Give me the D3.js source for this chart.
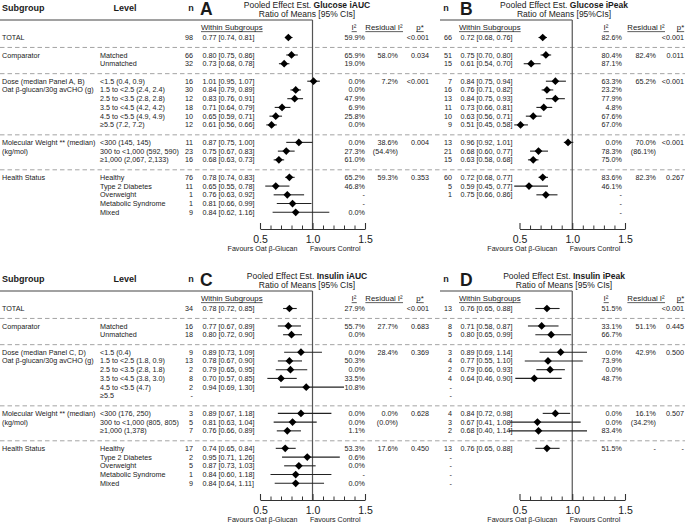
<!DOCTYPE html>
<html>
<head>
<meta charset="utf-8">
<script src="https://cdn.jsdelivr.net/npm/d3@7"></script>
<style>
  body { margin: 0; background: #fff; }
  svg { display: block; font-family: "Liberation Sans", Arial, sans-serif; }
</style>
</head>
<body>
<svg id="chart"></svg>
<script>
// ---- data ----
const groupSizes = [1, 2, 6, 3, 5];
const groupLabelsAB = [["TOTAL"], ["Comparator"], ["Dose (median Panel A, B)", "Oat β-glucan/30g avCHO (g)"], ["Molecular Weight ** (median)", "(kg/mol)"], ["Health Status"]];
const groupLabelsCD = [["TOTAL"], ["Comparator"], ["Dose (median Panel C, D)", "Oat β-glucan/30g avCHO (g)"], ["Molecular Weight ** (median)", "(kg/mol)"], ["Health Status"]];
const levelsAB = ["", "Matched", "Unmatched", "<1.5 (0.4, 0.9)", "1.5 to <2.5 (2.4, 2.4)", "2.5 to <3.5 (2.8, 2.8)", "3.5 to <4.5 (4.2, 4.2)", "4.5 to <5.5 (4.9, 4.9)", "≥5.5 (7.2, 7.2)", "<300 (145, 145)", "300 to <1,000 (592, 590)", "≥1,000 (2,067, 2,133)", "Healthy", "Type 2 Diabetes", "Overweight", "Metabolic Syndrome", "Mixed"];
const levelsCD = ["", "Matched", "Unmatched", "<1.5 (0.4)", "1.5 to <2.5 (1.8, 0.9)", "2.5 to <3.5 (2.8, 1.8)", "3.5 to <4.5 (3.8, 3.0)", "4.5 to <5.5 (4.7)", "≥5.5", "<300 (176, 250)", "300 to <1,000 (805, 805)", "≥1,000 (1,378)", "Healthy", "Type 2 Diabetes", "Overweight", "Metabolic Syndrome", "Mixed"];

// A: Glucose iAUC
const nA = ["98", "66", "32", "16", "30", "12", "18", "10", "12", "11", "23", "16", "76", "11", "1", "1", "9"];
const estA = [0.77, 0.80, 0.73, 1.01, 0.84, 0.83, 0.71, 0.65, 0.61, 0.87, 0.75, 0.68, 0.78, 0.65, 0.76, 0.81, 0.84];
const loA = [0.74, 0.75, 0.68, 0.95, 0.79, 0.76, 0.64, 0.59, 0.56, 0.75, 0.67, 0.63, 0.74, 0.55, 0.63, 0.66, 0.62];
const hiA = [0.81, 0.86, 0.78, 1.07, 0.89, 0.91, 0.79, 0.71, 0.66, 1.00, 0.83, 0.73, 0.83, 0.78, 0.92, 0.99, 1.16];
const i2A = ["59.9%", "65.9%", "19.0%", "0.0%", "0.0%", "47.9%", "6.9%", "25.8%", "0.0%", "0.0%", "27.3%", "61.0%", "65.2%", "46.8%", "-", "-", "0.0%"];
const residA = ["", "58.0%", "", "7.2%", "", "", "", "", "", "38.6%", "(54.4%)", "", "59.3%", "", "", "", ""];
const pA = ["<0.001", "0.034", "", "<0.001", "", "", "", "", "", "0.004", "", "", "0.353", "", "", "", ""];

// B: Glucose iPeak
const nB = ["66", "51", "15", "7", "16", "13", "11", "10", "9", "13", "21", "15", "60", "5", "1", "", ""];
const estB = [0.72, 0.75, 0.61, 0.84, 0.76, 0.84, 0.73, 0.63, 0.51, 0.96, 0.68, 0.63, 0.72, 0.59, 0.75, null, null];
const loB = [0.68, 0.70, 0.54, 0.75, 0.71, 0.75, 0.66, 0.56, 0.45, 0.92, 0.60, 0.58, 0.68, 0.45, 0.66, null, null];
const hiB = [0.76, 0.80, 0.70, 0.94, 0.82, 0.93, 0.81, 0.71, 0.58, 1.01, 0.77, 0.68, 0.77, 0.77, 0.86, null, null];
const i2B = ["82.6%", "80.4%", "87.1%", "63.3%", "23.2%", "77.9%", "4.8%", "67.6%", "67.0%", "0.0%", "78.3%", "75.0%", "83.6%", "46.1%", "-", "-", "-"];
const residB = ["", "82.4%", "", "65.2%", "", "", "", "", "", "70.0%", "(86.1%)", "", "82.3%", "", "", "", ""];
const pB = ["<0.001", "0.011", "", "<0.001", "", "", "", "", "", "<0.001", "", "", "0.267", "", "", "", ""];

// C: Insulin iAUC
const nC = ["34", "16", "18", "9", "13", "2", "8", "2", "-", "3", "5", "7", "17", "2", "5", "1", "9"];
const estC = [0.78, 0.77, 0.80, 0.89, 0.78, 0.79, 0.70, 0.94, null, 0.89, 0.81, 0.76, 0.74, 0.95, 0.87, 0.84, 0.84];
const loC = [0.72, 0.67, 0.72, 0.73, 0.67, 0.65, 0.57, 0.69, null, 0.67, 0.63, 0.66, 0.65, 0.71, 0.73, 0.60, 0.64];
const hiC = [0.85, 0.89, 0.90, 1.09, 0.90, 0.95, 0.85, 1.30, null, 1.18, 1.04, 0.89, 0.84, 1.26, 1.03, 1.18, 1.11];
const i2C = ["27.9%", "55.7%", "0.0%", "0.0%", "50.3%", "0.0%", "33.5%", "10.8%", "", "0.0%", "0.0%", "1.1%", "53.3%", "0.6%", "0.0%", "-", "0.0%"];
const residC = ["", "27.7%", "", "28.4%", "", "", "", "", "", "0.0%", "(0.0%)", "", "17.6%", "", "", "", ""];
const pC = ["<0.001", "0.683", "", "0.369", "", "", "", "", "", "0.628", "", "", "0.450", "", "", "", ""];

// D: Insulin iPeak
const nD = ["13", "8", "5", "3", "4", "2", "4", "-", "-", "4", "3", "2", "13", "-", "-", "-", "-"];
const estD = [0.76, 0.71, 0.80, 0.89, 0.77, 0.79, 0.64, null, null, 0.84, 0.67, 0.68, 0.76, null, null, null, null];
const loD = [0.65, 0.58, 0.65, 0.69, 0.55, 0.66, 0.46, null, null, 0.72, 0.41, 0.40, 0.65, null, null, null, null];
const hiD = [0.88, 0.87, 0.99, 1.14, 1.10, 0.93, 0.90, null, null, 0.98, 1.08, 1.14, 0.88, null, null, null, null];
const i2D = ["51.5%", "33.1%", "66.7%", "0.0%", "73.9%", "0.0%", "48.7%", "", "", "0.0%", "0.0%", "83.4%", "51.5%", "", "", "", ""];
const residD = ["", "51.1%", "", "42.9%", "", "", "", "", "", "16.1%", "(34.2%)", "", "-", "", "", "", ""];
const pD = ["<0.001", "0.445", "", "0.500", "", "", "", "", "", "0.507", "", "", "-", "", "", "", ""];

const axisTicks = [0.5, 1.0, 1.5];
const minorTicks = [0.6, 0.7, 0.8, 0.9, 1.1, 1.2, 1.3, 1.4];

// ---- layout ----
const width = 685, height = 525;
const halfOffset = [0, 271];
const textColor = "#1a1a1a";
const fmt = d3.format(".2f");

const sides = [
  { nX: 193, nHead: 191, estX: 202.5, letterX: 200, titleX: 307, range: [260, 365],
    i2X: 365, residX: 398, pX: 429, hI2: 354, hResid: 384, hP: 420, ruleFrom: 0 },
  { nX: 452, nHead: 446, estX: 460.5, letterX: 460, titleX: 564, range: [519.5, 625],
    i2X: 622, residX: 656, pX: 684, hI2: 606, hResid: 646, hP: 680.5, ruleFrom: 440 }
];

const panels = [
  { half: 0, side: 0, letter: "A", outcome: "Glucose iAUC", ci: "Ratio of Means [95% CIs]",
    n: nA, est: estA, lo: loA, hi: hiA, i2: i2A, resid: residA, p: pA },
  { half: 0, side: 1, letter: "B", outcome: "Glucose iPeak", ci: "Ratio of Means [95%CIs]",
    n: nB, est: estB, lo: loB, hi: hiB, i2: i2B, resid: residB, p: pB },
  { half: 1, side: 0, letter: "C", outcome: "Insulin iAUC", ci: "Ratio of Means [95% CIs]",
    n: nC, est: estC, lo: loC, hi: hiC, i2: i2C, resid: residC, p: pC },
  { half: 1, side: 1, letter: "D", outcome: "Insulin iPeak", ci: "Ratio of Means [95% CIs]",
    n: nD, est: estD, lo: loD, hi: hiD, i2: i2D, resid: residD, p: pD }
];

// row index with one blank separator row between groups
function rowIndex(k) {
  let acc = 0;
  for (let g = 0; g < groupSizes.length; g++) {
    if (k < acc + groupSizes[g]) return k + g;
    acc += groupSizes[g];
  }
}
const separators = [];
{
  let acc = 0;
  groupSizes.slice(0, -1).forEach((s, g) => { acc += s; separators.push(acc + g); });
}

const yRow = d3.scaleLinear().domain([0, 20]).range([37.5, 212.3]);
const ruleY = 20, axisY = 229;

const svg = d3.select("#chart").attr("width", width).attr("height", height)
  .attr("viewBox", [0, 0, width, height]);

function label(g, x, y, text, opts = {}) {
  return g.append("text")
    .attr("x", x).attr("y", y).attr("dy", "0.35em")
    .attr("text-anchor", opts.anchor || "start")
    .attr("font-size", opts.size || 7.2)
    .attr("font-weight", opts.bold ? "bold" : null)
    .attr("fill", textColor)
    .text(text);
}
function underline(g, t) {
  const b = t.node().getBBox();
  g.append("line")
    .attr("x1", b.x).attr("x2", b.x + b.width)
    .attr("y1", b.y + b.height - 0.6).attr("y2", b.y + b.height - 0.6)
    .attr("stroke", textColor).attr("stroke-width", 0.7);
}

// ---- shared columns per half ----
[0, 1].forEach(half => {
  const g = svg.append("g").attr("transform", `translate(0,${halfOffset[half]})`);
  const groups = half === 0 ? groupLabelsAB : groupLabelsCD;
  const levels = half === 0 ? levelsAB : levelsCD;

  label(g, 2, 8, "Subgroup", { size: 9, bold: true });
  label(g, 125, 8, "Level", { size: 9, bold: true, anchor: "middle" });

  // separators
  g.selectAll("line.sep").data(separators).join("line")
    .attr("class", "sep")
    .attr("x1", 0).attr("x2", width)
    .attr("y1", d => yRow(d) + 1.2).attr("y2", d => yRow(d) + 1.2)
    .attr("stroke", "#9a9a9a").attr("stroke-width", 0.9)
    .attr("stroke-dasharray", "4.5,3");

  // group labels
  let acc = 0;
  groups.forEach((lines, gi) => {
    lines.forEach((txt, li) => label(g, 2, yRow(rowIndex(acc) + li), txt));
    acc += groupSizes[gi];
  });

  // levels
  levels.forEach((txt, k) => { if (txt) label(g, 100, yRow(rowIndex(k)), txt); });
});

// ---- panels ----
panels.forEach(p => {
  const s = sides[p.side];
  const g = svg.append("g").attr("transform", `translate(0,${halfOffset[p.half]})`);
  const x = d3.scaleLinear().domain([0.5, 1.5]).range(s.range);

  // headers
  label(g, s.nHead, 8, "n", { size: 9, bold: true, anchor: "middle" });
  g.append("text")
    .attr("x", s.letterX).attr("y", 14.5)
    .attr("font-size", 17.5).attr("font-weight", "bold").attr("fill", textColor)
    .text(p.letter);
  const t1 = g.append("text")
    .attr("x", s.titleX).attr("y", 5.2).attr("dy", "0.35em")
    .attr("text-anchor", "middle").attr("font-size", 8.5).attr("fill", textColor);
  t1.append("tspan").text("Pooled Effect Est. ");
  t1.append("tspan").attr("font-weight", "bold").text(p.outcome);
  label(g, s.titleX, 14.5, p.ci, { size: 8.5, anchor: "middle" });

  // rule under header
  g.append("line")
    .attr("x1", s.ruleFrom).attr("x2", x(1))
    .attr("y1", ruleY).attr("y2", ruleY)
    .attr("stroke", "#444").attr("stroke-width", 1.1);

  underline(g, label(g, s.estX - 1.5, 27.5, "Within Subgroups", { size: 7.8 }));
  underline(g, label(g, s.hI2, 27.5, "I²", { size: 7.8, anchor: "middle" }));
  underline(g, label(g, s.hResid, 27.5, "Residual I²", { size: 7.8, anchor: "middle" }));
  underline(g, label(g, s.hP, 27.5, "p*", { size: 7.8, anchor: "middle" }));

  // reference line at 1.0
  g.append("line")
    .attr("x1", x(1)).attr("x2", x(1))
    .attr("y1", ruleY).attr("y2", axisY)
    .attr("stroke", "#555").attr("stroke-width", 1.2);

  // rows
  const rows = p.n.map((n, k) => ({
    k, y: yRow(rowIndex(k)), n, est: p.est[k], lo: p.lo[k], hi: p.hi[k],
    i2: p.i2[k], resid: p.resid[k], pv: p.p[k]
  }));

  rows.forEach(r => {
    if (r.n) label(g, s.nX, r.y, r.n, { anchor: "end" });
    if (r.est != null) label(g, s.estX, r.y, `${fmt(r.est)} [${fmt(r.lo)}, ${fmt(r.hi)}]`);
    if (r.i2) label(g, s.i2X, r.y, r.i2, { anchor: "end" });
    if (r.resid) label(g, s.residX, r.y, r.resid, { anchor: "end" });
    if (r.pv) label(g, s.pX, r.y, r.pv, { anchor: "end" });
  });

  const marks = rows.filter(r => r.est != null);
  g.selectAll("line.ci").data(marks).join("line")
    .attr("class", "ci")
    .attr("x1", d => x(d.lo)).attr("x2", d => x(d.hi))
    .attr("y1", d => d.y).attr("y2", d => d.y)
    .attr("stroke", "#222").attr("stroke-width", 1.1);
  g.selectAll("path.est").data(marks).join("path")
    .attr("class", "est")
    .attr("d", d3.symbol().type(d3.symbolSquare).size(30))
    .attr("transform", d => `translate(${x(d.est)},${d.y}) rotate(45)`)
    .attr("fill", "#000");

  // axis
  const ax = g.append("g").attr("transform", `translate(0,${axisY})`);
  ax.call(d3.axisBottom(x).tickValues(axisTicks).tickFormat(d3.format(".1f"))
      .tickSizeInner(-6).tickSizeOuter(0).tickPadding(7))
    .call(a => a.select(".domain").attr("stroke", "#333").attr("stroke-width", 1.1))
    .call(a => a.selectAll(".tick line").attr("stroke", "#333").attr("stroke-width", 1.1))
    .call(a => a.selectAll(".tick text").attr("font-size", 10.5).attr("fill", textColor)
      .attr("font-family", "Liberation Sans, Arial, sans-serif"));
  const minor = g.append("g").attr("transform", `translate(0,${axisY})`);
  minor.call(d3.axisBottom(x).tickValues(minorTicks).tickFormat("").tickSizeInner(-3.5).tickSizeOuter(0))
    .call(a => a.select(".domain").remove())
    .call(a => a.selectAll(".tick line").attr("stroke", "#333").attr("stroke-width", 1));

  label(g, x(1) - 15, axisY + 19.5, "Favours Oat β-Glucan", { size: 7.1, anchor: "end" });
  label(g, x(1) - 2.5, axisY + 19.5, "Favours Control", { size: 7.1 });
});
</script>
</body>
</html>
